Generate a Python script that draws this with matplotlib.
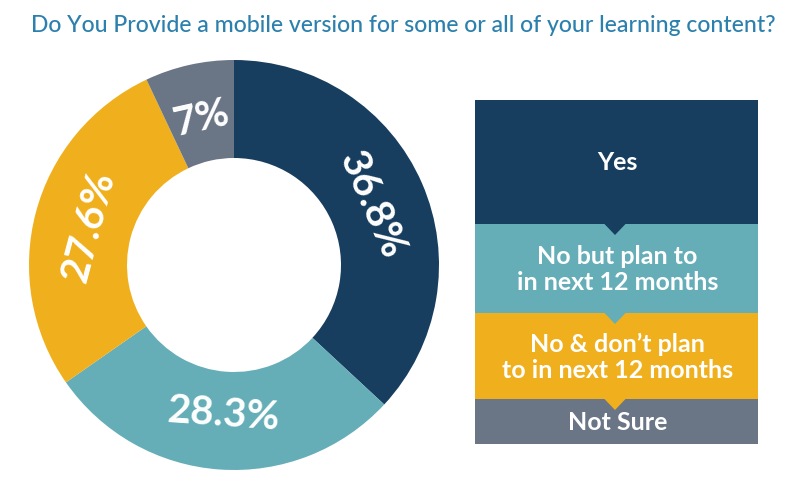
import numpy as np
import matplotlib
matplotlib.use('Agg')
import matplotlib.pyplot as plt
from matplotlib.patches import Rectangle, Polygon

plt.rcParams['font.family'] = ['Lato', 'DejaVu Sans']

title = 'Do You Provide a mobile version for some or all of your learning content?'
categories = ['Yes', 'No but plan to\nin next 12 months', 'No & don\u2019t plan\nto in next 12 months', 'Not Sure']
values = [36.8, 28.3, 27.6, 7.0]
labels = ['36.8%', '28.3%', '27.6%', '7%']
colors = ['#173d5f', '#65aeb8', '#f0af1d', '#6a7586']

W, H = 800, 488
fig = plt.figure(figsize=(W / 100, H / 100), dpi=100)
ax = fig.add_axes([0, 0, 1, 1])

# donut, pixel coords with y going up
cx, cy = 234, H - 265
R, r = 205, 107
wedges, _ = ax.pie(values, colors=colors, startangle=90, counterclock=False,
                   center=(cx, cy), radius=R,
                   wedgeprops=dict(width=R - r, linewidth=0))

for w, lab in zip(wedges, labels):
    ang = (w.theta1 + w.theta2) / 2
    a = np.deg2rad(ang)
    rot = (ang - 90 + 90) % 180 - 90   # keep text readable
    lr = 150
    ax.text(cx + lr * np.cos(a), cy + lr * np.sin(a), lab, color='white',
            fontsize=29, fontweight='bold', ha='center', va='center',
            rotation=rot, rotation_mode='anchor')

# legend column
bx0, bx1 = 475, 758
edges = [100, 224, 313, 399, 444]
for i, (cat, col) in enumerate(zip(categories, colors)):
    top, bot = edges[i], edges[i + 1]
    ax.add_patch(Rectangle((bx0, H - bot), bx1 - bx0, bot - top, facecolor=col, linewidth=0))
    ax.text((bx0 + bx1) / 2 + 1, H - (top + bot) / 2 - 1, cat, color='white',
            fontsize=18, fontweight='bold', ha='center', va='center', linespacing=1.15)

# little pointers under each box
tx = 615
for i in range(len(categories) - 1):
    yb = H - edges[i + 1]
    ax.add_patch(Polygon([(tx - 11, yb + 0.5), (tx + 11, yb + 0.5), (tx, yb - 11)],
                         closed=True, facecolor=colors[i], linewidth=0, zorder=3))

ax.text(403, H - 32, title, color='#2b80ad', fontsize=16.6, fontweight='medium',
        ha='center', va='baseline')

ax.set_xlim(0, W)
ax.set_ylim(0, H)
ax.set_aspect('auto')
ax.axis('off')

fig.savefig('out.png', dpi=100)
